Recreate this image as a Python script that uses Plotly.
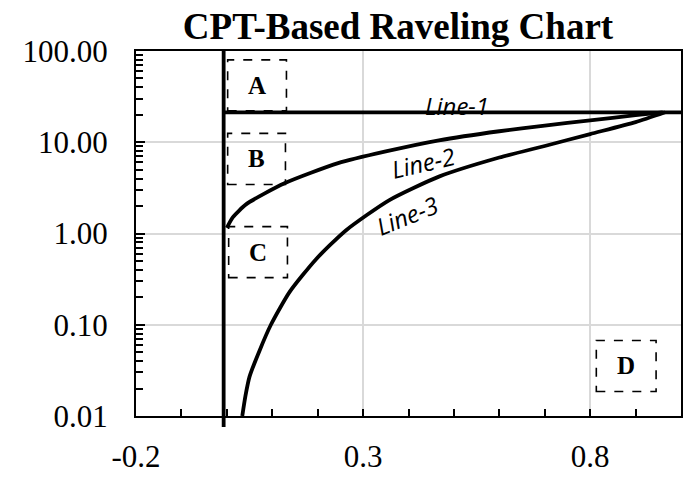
import plotly.graph_objects as go

# ---- data ----
boundary_x = [-0.007]

line1_x = [-0.007, 1.0]
line1_y = [21.3, 21.3]

line2_x = [0.0, 0.013, 0.043, 0.127, 0.245, 0.35, 0.467, 0.6, 0.7, 0.8, 0.9, 0.96]
line2_y = [1.15, 1.5, 2.1, 3.55, 5.9, 7.93, 10.5, 13.2, 15.2, 17.4, 19.8, 21.3]

line3_x = [0.034, 0.041, 0.05, 0.072, 0.097, 0.138, 0.196, 0.262, 0.357, 0.467, 0.6, 0.7, 0.8, 0.9, 0.965]
line3_y = [0.01, 0.0166, 0.027, 0.052, 0.1, 0.228, 0.52, 1.08, 2.31, 4.2, 6.8, 9.1, 12.3, 16.6, 21.3]

y_tickvals = [0.01, 0.1, 1, 10, 100]
y_ticktext = ["0.01", "0.10", "1.00", "10.00", "100.00"]
x_tickvals = [-0.2, 0.3, 0.8]
x_ticktext = ["-0.2", "0.3", "0.8"]

zone_labels = ["A", "B", "C", "D"]
line_labels = ["Line-1", "Line-2", "Line-3"]

# ---- figure ----
fig = go.Figure()
for xs, ys in [(line1_x, line1_y), (line2_x, line2_y), (line3_x, line3_y)]:
    fig.add_trace(go.Scatter(x=xs, y=ys, mode="lines",
                             line=dict(shape="spline", smoothing=0.6, color="black", width=3.8),
                             showlegend=False, hoverinfo="skip"))

W, H = 687, 478
L, R, T, B = 136, 4, 51, 55
pw, ph = W - L - R, H - T - B

def px2paper(x, y):
    return (x - L) / pw, (H - B - y) / ph

# vertical boundary line
fig.add_shape(type="line", xref="x", yref="paper", x0=boundary_x[0], x1=boundary_x[0],
              y0=-0.03, y1=1.0, line=dict(color="black", width=3.8))

# dashed zone boxes
boxes = [(228, 60, 287, 112), (228, 135, 286, 187), (229, 230, 288, 282), (598, 346, 658, 398)]
for lab, (x0, y0, x1, y1) in zip(zone_labels, boxes):
    a0, b1 = px2paper(x0, y0)
    a1, b0 = px2paper(x1, y1)
    fig.add_shape(type="rect", xref="paper", yref="paper", x0=a0, x1=a1, y0=b0, y1=b1,
                  line=dict(color="black", width=1.6, dash="dash"))
    fig.add_annotation(xref="paper", yref="paper", x=(a0 + a1) / 2, y=(b0 + b1) / 2, text=f"<b>{lab}</b>",
                       showarrow=False, font=dict(family="Liberation Serif", size=25, color="black"),
                       xanchor="center", yanchor="middle")

# line labels (italic)
label_pos = [(0.506, 1.40, 0), (0.432, 0.78, -13), (0.396, 0.20, -22)]
for txt, (lx, ly, ang) in zip(line_labels, label_pos):
    fig.add_annotation(xref="x", yref="y", x=lx, y=ly, text=f"<i>{txt}</i>", showarrow=False,
                       textangle=ang, font=dict(family="Open Sans", size=24, color="black"),
                       xanchor="center", yanchor="middle")

fig.update_layout(
    width=W, height=H, margin=dict(l=L, r=R, t=T, b=B),
    paper_bgcolor="white", plot_bgcolor="white",
    title=dict(text="<b>CPT-Based Raveling Chart</b>", x=398 / W, xanchor="center",
               y=1 - 26 / H, yanchor="middle", yref="container",
               font=dict(family="Liberation Serif", size=37, color="black")),
    font=dict(family="Liberation Serif", color="black"),
)
fig.update_xaxes(range=[-0.2, 1.0], tickmode="array", tickvals=x_tickvals, ticktext=x_ticktext,
                 showgrid=True, gridcolor="#d9d9d9", gridwidth=1.5, zeroline=False,
                 showline=True, linecolor="black", linewidth=2, mirror=True,
                 ticks="inside", ticklen=7, tickwidth=1.5, tickcolor="black",
                 tickfont=dict(family="Liberation Serif", size=31, color="black"),
                 ticklabelstandoff=12,
                 minor=dict(dtick=0.1, tick0=-0.2, ticks="inside", ticklen=7, tickwidth=1.5,
                            tickcolor="black", showgrid=False))
minor_y = [m * 10.0 ** e for e in range(-2, 2) for m in range(2, 10)]
fig.update_yaxes(type="log", range=[-2, 2], tickmode="array", tickvals=y_tickvals, ticktext=y_ticktext,
                 showgrid=True, gridcolor="#d9d9d9", gridwidth=1.5, zeroline=False,
                 showline=True, linecolor="black", linewidth=2, mirror=True,
                 ticks="inside", ticklen=9, tickwidth=1.5, tickcolor="black",
                 tickfont=dict(family="Liberation Serif", size=31, color="black"),
                 ticklabelstandoff=20,
                 minor=dict(tickmode="array", tickvals=minor_y, ticks="inside", ticklen=7, tickwidth=1.5,
                            tickcolor="black", showgrid=False))

fig.write_html("out.html")
